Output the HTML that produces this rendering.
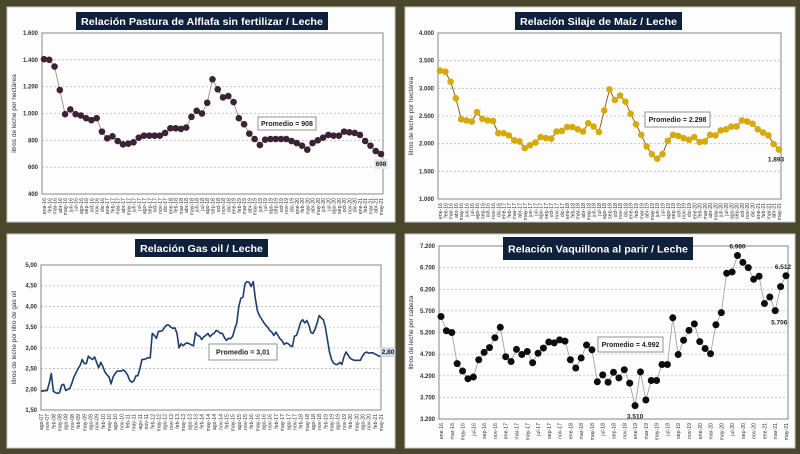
<!DOCTYPE html>
<html><head><meta charset="utf-8"><style>
html,body{margin:0;padding:0;background:#4a472c;}
svg{display:block;font-family:"Liberation Sans",sans-serif;}
</style></head><body>
<svg id="root" width="800" height="454" viewBox="0 0 800 454">
<rect x="0" y="0" width="800" height="454" fill="#4a472c"/>
</svg>
<script>
const MONTHS = ['ene','feb','mar','abr','may','jun','jul','ago','sep','oct','nov','dic'];
function monthSeq(startM, startY, n){const r=[];let m=startM,y=startY;for(let i=0;i<n;i++){r.push(MONTHS[m]+'-'+String(y).padStart(2,'0'));m++;if(m>11){m=0;y++;}}return r;}
const alfCategories = monthSeq(0,16,65);
const alfValues = [1405,1400,1350,1175,995,1030,995,985,965,950,965,865,815,830,795,770,775,785,820,835,835,835,835,855,890,890,885,895,975,1020,1000,1080,1255,1180,1120,1130,1085,965,920,850,810,765,805,810,810,810,810,795,780,760,730,780,800,820,840,835,835,865,860,855,840,795,760,720,698];
const alfTicks = [400,600,800,1000,1200,1400,1600];
const silCategories = monthSeq(0,16,65);
const silValues = [3320,3300,3120,2820,2440,2420,2400,2570,2450,2420,2410,2190,2190,2150,2060,2040,1920,1970,2020,2120,2100,2090,2220,2230,2300,2300,2260,2220,2370,2310,2210,2600,2980,2790,2870,2760,2540,2350,2160,1950,1810,1730,1810,2050,2160,2140,2100,2070,2120,2030,2040,2160,2150,2240,2260,2310,2310,2420,2400,2360,2260,2200,2150,1990,1893];
const silTicks = [1000,1500,2000,2500,3000,3500,4000];
const gasCategories = monthSeq(7,7,166);
const gasValues = [1.95,1.96,1.97,1.97,2.15,2.38,1.95,1.92,1.90,1.92,2.10,2.12,1.97,2.00,2.02,2.15,2.30,2.40,2.50,2.58,2.72,2.62,2.62,2.80,2.75,2.72,2.78,2.65,2.52,2.65,2.55,2.42,2.35,2.30,2.13,2.30,2.38,2.44,2.44,2.44,2.47,2.42,2.35,2.22,2.17,2.20,2.32,2.33,2.50,2.72,2.72,2.74,2.76,2.76,3.35,3.30,3.23,3.40,3.40,3.42,3.50,3.55,3.55,3.50,3.47,3.48,3.35,3.00,3.10,3.05,3.10,3.12,3.10,3.07,3.05,3.37,3.30,3.28,3.20,3.27,3.30,3.35,3.27,3.32,3.35,3.42,3.40,3.35,3.35,3.25,3.18,3.23,3.22,3.28,3.45,3.60,4.00,4.20,4.22,4.55,4.60,4.58,4.48,4.60,4.20,3.90,3.78,3.70,3.62,3.55,3.50,3.42,3.38,3.30,3.38,3.30,3.22,3.17,3.08,3.12,3.10,3.05,3.03,3.28,3.30,3.45,3.62,3.68,3.60,3.66,3.55,3.37,3.35,3.45,3.60,3.78,3.72,3.68,3.50,3.20,2.90,2.72,2.63,2.60,2.60,2.65,2.60,2.78,2.90,2.83,2.75,2.72,2.70,2.70,2.70,2.70,2.80,2.87,2.90,2.87,2.88,2.88,2.85,2.83,2.80,2.80];
const gasTicks = [1.5,2,2.5,3,3.5,4,4.5,5];
const vaqCategories = monthSeq(0,16,65);
const vaqValues = [5570,5240,5200,4480,4310,4130,4170,4570,4740,4850,5080,5320,4640,4530,4810,4690,4760,4500,4720,4840,4980,4960,5030,5000,4570,4380,4610,4910,4800,4060,4220,4050,4280,4150,4340,4030,3510,4290,3640,4090,4090,4460,4460,5540,4690,5020,5250,5400,4990,4830,4710,5380,5660,6570,6600,6980,6820,6700,6430,6500,5870,6020,5706,6260,6512];
const vaqTicks = [3200,3700,4200,4700,5200,5700,6200,6700,7200];

const NS='http://www.w3.org/2000/svg';
const root=document.getElementById('root');
function el(tag,attrs,parent,text){const e=document.createElementNS(NS,tag);for(const k in attrs)e.setAttribute(k,attrs[k]);if(text!==undefined)e.textContent=text;(parent||root).appendChild(e);return e;}
function fmtDot(v){return String(v).replace(/\B(?=(\d{3})+(?!\d))/g,'.');}
function fmtComma(v){return v.toFixed(2).replace('.',',');}

function chart(o){
  const g=el('g',{});
  
  
  const panel=el('rect',{x:o.px,y:o.py,width:o.pw,height:o.ph,fill:'#fdfdfd',stroke:'#c8c8c8','stroke-width':1},g);
  
  
  const ymin=o.ticks[0],ymax=o.ticks[o.ticks.length-1];
  const Y=v=>o.y1-(v-ymin)/(ymax-ymin)*(o.y1-o.y0);
  const n=o.values.length;
  const X=i=>o.x0+o.pad+i*(o.x1-o.x0-2*o.pad)/(n-1);
  o.ticks.forEach((t,k)=>{
    if(k>0&&k<o.ticks.length-1){const gl=el('line',{x1:o.x0,x2:o.x1,y1:Y(t),y2:Y(t),stroke:'#bbb','stroke-dasharray':'2,2','stroke-width':0.8},g);
    
    }
    const tl=el('text',{x:o.x0-4,y:Y(t)+2,'text-anchor':'end','font-size':6,'font-weight':'bold',fill:'#333'},g,o.fmt(t));
    
    
  });
  const frame=el('rect',{x:o.x0,y:o.y0,width:o.x1-o.x0,height:o.y1-o.y0,fill:'none',stroke:'#9a9a9a','stroke-width':1.2},g);
  
  
  const yt=el('text',{x:0,y:0,'text-anchor':'middle','font-size':6.5,fill:'#333',transform:`translate(${o.ytx},${(o.y0+o.y1)/2}) rotate(-90)`},g,o.ytitle);
  
  
  o.cats.forEach((c,i)=>{
    if(i%o.labelEvery!==0)return;
    const xl=el('text',{x:0,y:0,'text-anchor':'end','font-size':5.2,fill:'#333',transform:`translate(${X(i)+2},${o.y1+4}) rotate(-90)`},g,c);
    
    
  });
  const pts=o.values.map((v,i)=>X(i).toFixed(2)+','+Y(v).toFixed(2)).join(' ');
  const line=el('polyline',{points:pts,fill:'none',stroke:o.lineColor,'stroke-width':o.lineWidth,'stroke-linejoin':'round'},g);
  
  
  if(o.marker){o.values.forEach((v,i)=>{
    const c=el('circle',{cx:X(i),cy:Y(v),r:o.marker,fill:o.markerColor},g);
    
    
  });}
  const pb=el('rect',{x:o.avg[0],y:o.avg[1],width:o.avg[2],height:o.avg[3],fill:'#fff',stroke:'#777','stroke-width':0.8},g);
  
  
  const pt=el('text',{x:o.avg[0]+o.avg[2]/2,y:o.avg[1]+o.avg[3]/2+2.5,'text-anchor':'middle','font-size':7,'font-weight':'bold',fill:'#222'},g,o.avgText);
  
  
  (o.annots||[]).forEach(a=>{
    const i=a.i; const v=o.values[i];
    const ax=X(i)+(a.dx||0), ay=Y(v)+a.dy;
    if(a.bg){const r=el('rect',{x:ax-a.bgw/2,y:ay-7,width:a.bgw,height:10,fill:a.bg},g);
      
      }
    const t=el('text',{x:ax,y:ay,'text-anchor':'middle','font-size':6.5,'font-weight':'bold',fill:'#222'},g,o.fmt(v));
    
    
  });
  const tb=el('rect',{x:o.tx,y:o.ty,width:o.tw,height:o.th,fill:'#0f203d'},g);
  
  
  const tt=el('text',{x:o.tx+o.tw/2,y:o.ty+o.th/2+4,'text-anchor':'middle','font-size':10.5,'font-weight':'bold',fill:'#fff',textLength:o.tw-10,lengthAdjust:'spacingAndGlyphs'},g,o.title);
  
  
}

chart({name:'alfalfa-chart',px:7,py:7,pw:388,ph:215,tx:76,ty:12,tw:252,th:18,title:'Relación Pastura de Alflafa sin fertilizar / Leche',
  x0:42,x1:383,y0:33,y1:194,pad:2,ticks:alfTicks,values:alfValues,cats:alfCategories,fmt:fmtDot,labelEvery:1,
  ytitle:'litros de leche por hectárea',ytx:16,lineColor:'#888',lineWidth:0.8,marker:3.3,markerColor:'#3b2234',
  avg:[258,117,58,13],avgText:'Promedio = 908',annots:[{i:64,dy:12,bg:'#e4e8f0',bgw:14}]});
chart({name:'silaje-chart',px:405,py:7,pw:390,ph:215,tx:515,ty:12,tw:167,th:18,title:'Relación Silaje de Maíz / Leche',
  x0:438,x1:781,y0:33,y1:199,pad:2,ticks:silTicks,values:silValues,cats:silCategories,fmt:fmtDot,labelEvery:1,
  ytitle:'litros de leche por hectárea',ytx:413,lineColor:'#8a4a10',lineWidth:0.9,marker:3.3,markerColor:'#d6aa08',
  avg:[645,112,65,15],avgText:'Promedio = 2.298',annots:[{i:64,dy:12,dx:-3}]});
chart({name:'gasoil-chart',px:7,py:234,pw:388,ph:214,tx:135,ty:239,tw:133,th:18,title:'Relación Gas oil / Leche',
  x0:41,x1:381,y0:265,y1:410,pad:0,ticks:gasTicks,values:gasValues,cats:gasCategories,fmt:fmtComma,labelEvery:3,
  ytitle:'litros de leche por litro de gas oil',ytx:16,lineColor:'#1d3d6e',lineWidth:1.6,marker:0,
  avg:[209,344,68,16],avgText:'Promedio = 3,01',annots:[{i:165,dy:-2,dx:7,bg:'#cdd9ec',bgw:15}]});
chart({name:'vaquillona-chart',px:405,py:234,pw:390,ph:214,tx:503,ty:237,tw:190,th:23,title:'Relación Vaquillona al parir / Leche',
  x0:439,x1:788,y0:246,y1:419,pad:2,ticks:vaqTicks,values:vaqValues,cats:vaqCategories,fmt:fmtDot,labelEvery:2,
  ytitle:'litros de leche por cabeza',ytx:413,lineColor:'#999',lineWidth:0.8,marker:3.5,markerColor:'#0d0d0d',
  avg:[598,337,65,15],avgText:'Promedio = 4.992',annots:[{i:36,dy:13},{i:55,dy:-7},{i:62,dy:14,dx:4},{i:64,dy:-7,dx:-3}]});
</script>
</body></html>
